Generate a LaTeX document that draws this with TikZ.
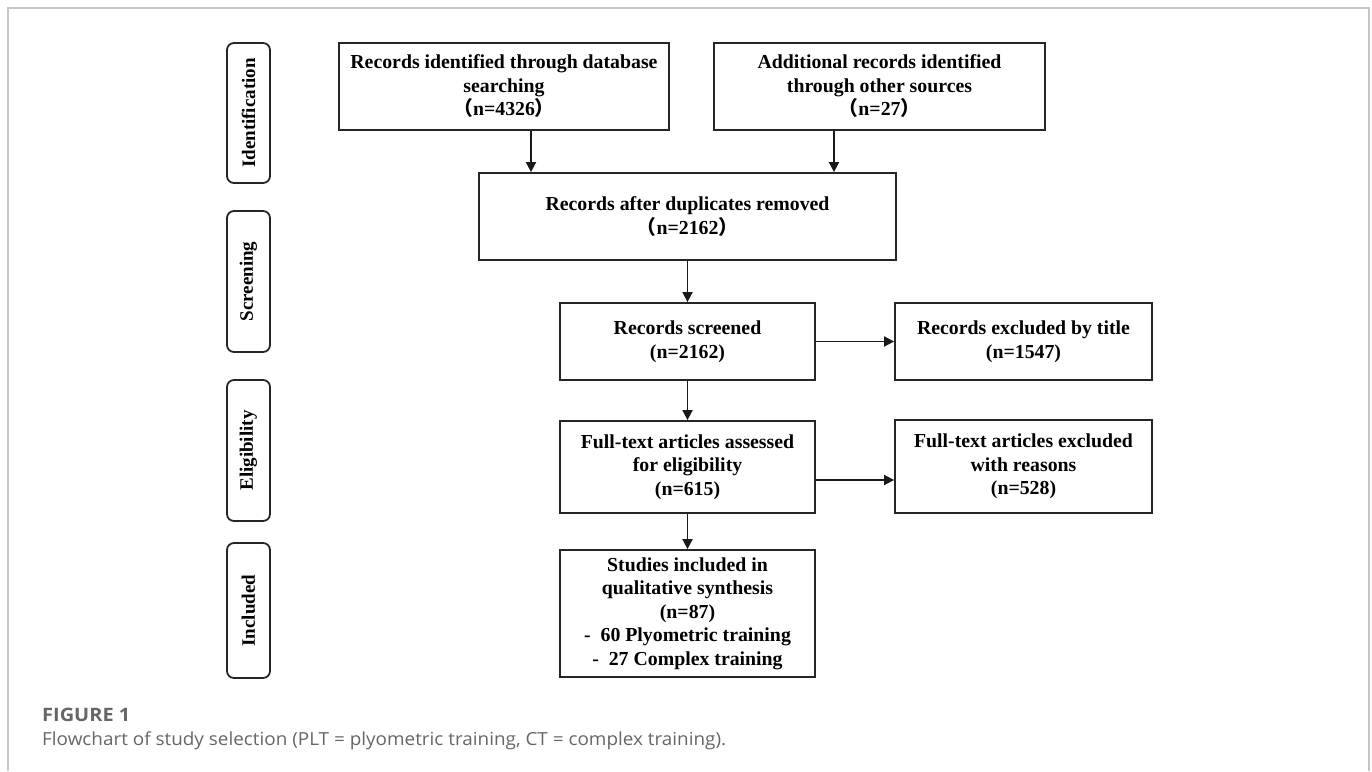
\documentclass[tikz,border=0pt]{standalone}
\usepackage{fontspec}
\setmainfont{Liberation Serif}
\newfontfamily\capfont[FakeStretch=1.05]{Open Sans}
\newfontfamily\capboldfont[FakeStretch=1.08]{Open Sans}
\newfontfamily\cjkfont{Noto Sans CJK SC}
\usetikzlibrary{arrows.meta}
\newcommand{\lp}{{\cjkfont （}}
\newcommand{\rp}{{\cjkfont ）}}
\begin{document}
\begin{tikzpicture}[x=1pt,y=-1pt,
  flowbox/.style={draw=black!85, line width=1.8pt, align=center, inner sep=0pt,
    font=\fontsize{19.8}{23.5}\selectfont\bfseries},
  stagebox/.style={draw=black!85, line width=1.8pt, rounded corners=7pt, rotate=90,
    minimum height=43pt, inner sep=0pt, font=\fontsize{19}{23}\selectfont\bfseries},
  arr/.style={line width=1.8pt, draw=black!90, -{Triangle[length=10pt,width=10pt]}},
  capstyle/.style={anchor=base west, inner sep=0pt, text=black!60}
]
\useasboundingbox (0,0) rectangle (1372,771);
% frame
\draw[black!22, line width=1.5pt] (8,771) -- (8,8) -- (1369,8) -- (1369,771);

% stage labels
\node[stagebox, minimum width=140pt] (s1) at (248.5,113) {Identification};
\node[stagebox, minimum width=141pt] (s2) at (248.5,281.5) {Screening};
\node[stagebox, minimum width=141pt] (s3) at (248.5,450.5) {Eligibility};
\node[stagebox, minimum width=135pt] (s4) at (248.5,610.5) {Included};

% flow boxes
\node[flowbox, minimum width=330pt, minimum height=87pt] (A) at (504,86.5)
  {Records identified through database\\searching\\\lp n=4326\rp};
\node[flowbox, minimum width=331pt, minimum height=87pt] (B) at (879.5,86.5)
  {Additional records identified\\through other sources\\\lp n=27\rp};
\node[flowbox, minimum width=417pt, minimum height=87pt] (C) at (687.5,216.5)
  {Records after duplicates removed\\\lp n=2162\rp};
\node[flowbox, minimum width=255pt, minimum height=77pt] (D) at (687.5,341.5)
  {Records screened\\(n=2162)};
\node[flowbox, minimum width=257pt, minimum height=77pt] (E) at (1023.5,341.5)
  {Records excluded by title\\(n=1547)};
\node[flowbox, minimum width=255pt, minimum height=92pt] (F) at (687.5,467)
  {Full-text articles assessed\\for eligibility\\(n=615)};
\node[flowbox, minimum width=257pt, minimum height=93pt] (G) at (1023.5,466.5)
  {Full-text articles excluded\\with reasons\\(n=528)};
\node[flowbox, minimum width=255pt, minimum height=127pt] (H) at (687.5,613.5)
  {Studies included in\\qualitative synthesis\\(n=87)\\-\ \ 60 Plyometric training\\-\ \ 27 Complex training};

% connectors
\coordinate (xa) at (531,0);
\coordinate (xb) at (834,0);
\coordinate (yf) at (0,480);
\draw[arr] (A.south -| xa) -- (C.north -| xa);
\draw[arr] (B.south -| xb) -- (C.north -| xb);
\draw[arr] (C.south) -- (D.north);
\draw[arr] (D.east) -- (E.west);
\draw[arr] (D.south) -- (F.north);
\draw[arr] (F.east |- yf) -- (G.west |- yf);
\draw[arr] (F.south) -- (H.north);

% caption
\node[capstyle, font=\capboldfont\fontsize{18.5}{22}\selectfont\bfseries] (cap1) at (42,721) {FIGURE 1};
\node[capstyle, font=\capfont\fontsize{18}{22}\selectfont] (cap2) at (42,745)
  {Flowchart of study selection (PLT = plyometric training, CT = complex training).};
\end{tikzpicture}
\end{document}
